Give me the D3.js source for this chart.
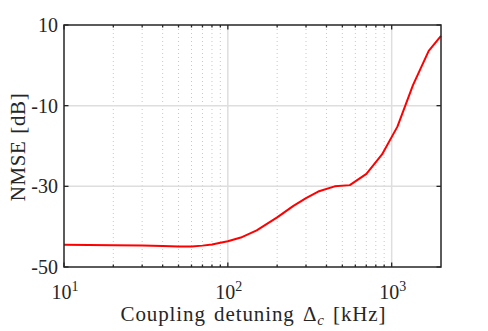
<!DOCTYPE html>
<html><head><meta charset="utf-8">
<script src="https://cdn.jsdelivr.net/npm/d3@7/dist/d3.min.js"></script>
<style>body{margin:0;background:#fff}svg{display:block}</style>
</head><body>
<script>
const detuning = [10, 20, 30, 40, 50, 60, 70, 80, 90, 100, 120, 150, 200, 250, 300, 356, 449, 555, 701, 873, 1084, 1349, 1683, 2000];
const nmse = [-44.5, -44.6, -44.7, -44.8, -44.9, -44.9, -44.7, -44.4, -44.0, -43.6, -42.7, -40.9, -37.7, -34.9, -32.9, -31.3, -30.0, -29.7, -26.9, -22.1, -15.2, -4.9, 3.6, 7.3];
const yTicks = [-50, -30, -10, 10];
const xTicks = [10, 100, 1000];
const xTickExp = ["1", "2", "3"];
const minorTicks = [20,30,40,50,60,70,80,90,200,300,400,500,600,700,800,900];

const W = 488, H = 331;
const m = {l: 64, r: 47, t: 25, b: 64};
const svg = d3.select("body").append("svg").attr("width", W).attr("height", H);
const x = d3.scaleLog().domain([10, 2000]).range([m.l, W - m.r]);
const y = d3.scaleLinear().domain([-50, 10]).range([H - m.b, m.t]);
const x0 = x.range()[0], x1 = x.range()[1], y0 = y.range()[0], y1 = y.range()[1];
const font = "'Liberation Serif', 'Times New Roman', serif";
const axisColor = "#262626";

// grid
const g = svg.append("g");
g.selectAll(".mx").data(minorTicks).join("line")
  .attr("x1", d => x(d)).attr("x2", d => x(d)).attr("y1", y1).attr("y2", y0)
  .attr("stroke", "#c8c8c8").attr("stroke-width", 1).attr("stroke-dasharray", "1,3");
g.selectAll(".Mx").data(xTicks.slice(1)).join("line")
  .attr("x1", d => x(d)).attr("x2", d => x(d)).attr("y1", y1).attr("y2", y0)
  .attr("stroke", "#dedede").attr("stroke-width", 1.5);
g.selectAll(".My").data(yTicks.slice(1, -1)).join("line")
  .attr("y1", d => y(d)).attr("y2", d => y(d)).attr("x1", x0).attr("x2", x1)
  .attr("stroke", "#dedede").attr("stroke-width", 1.5);

// line
const line = d3.line().x((d, i) => x(detuning[i])).y(d => y(d)).curve(d3.curveLinear);
svg.append("path").datum(nmse).attr("d", line)
  .attr("fill", "none").attr("stroke", "#ff0000").attr("stroke-width", 2).attr("stroke-linejoin", "round");

// axes box
const ax = svg.append("g");
ax.append("rect").attr("x", x0).attr("y", y1).attr("width", x1 - x0).attr("height", y0 - y1)
  .attr("fill", "none").attr("stroke", axisColor).attr("stroke-width", 1.5);
[y0, y1].forEach((yy, k) => {
  const dir = k === 0 ? -1 : 1;
  ax.selectAll(null).data(xTicks).join("line")
    .attr("x1", d => x(d)).attr("x2", d => x(d)).attr("y1", yy).attr("y2", yy + dir * 4.5)
    .attr("stroke", axisColor).attr("stroke-width", 1.3);
  ax.selectAll(null).data(minorTicks).join("line")
    .attr("x1", d => x(d)).attr("x2", d => x(d)).attr("y1", yy).attr("y2", yy + dir * 2.5)
    .attr("stroke", axisColor).attr("stroke-width", 1.3);
});
[x0, x1].forEach((xx, k) => {
  const dir = k === 0 ? 1 : -1;
  ax.selectAll(null).data(yTicks).join("line")
    .attr("y1", d => y(d)).attr("y2", d => y(d)).attr("x1", xx).attr("x2", xx + dir * 4.5)
    .attr("stroke", axisColor).attr("stroke-width", 1.3);
});

// y tick labels
svg.selectAll(".yl").data(yTicks).join("text")
  .attr("x", x0 - 6).attr("y", d => y(d) + 7)
  .attr("text-anchor", "end").attr("font-family", font).attr("font-size", 20)
  .attr("fill", axisColor).text(d => d);

// x tick labels
xTicks.forEach((d, i) => {
  const t = svg.append("text").attr("x", x(d) + 1).attr("y", 299)
    .attr("text-anchor", "middle").attr("font-family", font).attr("font-size", 20).attr("fill", axisColor);
  t.append("tspan").text("10");
  t.append("tspan").attr("dy", -8).attr("font-size", 14).text(xTickExp[i]);
});

// x label
const xl = svg.append("text").attr("x", (x0 + x1) / 2 + 1).attr("y", 321)
  .attr("text-anchor", "middle").attr("font-family", font).attr("font-size", 21).attr("fill", axisColor)
  .attr("letter-spacing", 0.9).attr("word-spacing", 2);
xl.append("tspan").text("Coupling detuning Δ");
xl.append("tspan").attr("dy", 4).attr("font-size", 15).attr("font-style", "italic").text("c");
xl.append("tspan").attr("dy", -4).text(" [kHz]");

// y label
svg.append("text").attr("transform", `translate(25,${(y0 + y1) / 2 + 1}) rotate(-90)`)
  .attr("text-anchor", "middle").attr("font-family", font).attr("font-size", 21).attr("fill", axisColor)
  .attr("letter-spacing", 0.6).attr("word-spacing", 1)
  .text("NMSE [dB]");
</script>
</body></html>
